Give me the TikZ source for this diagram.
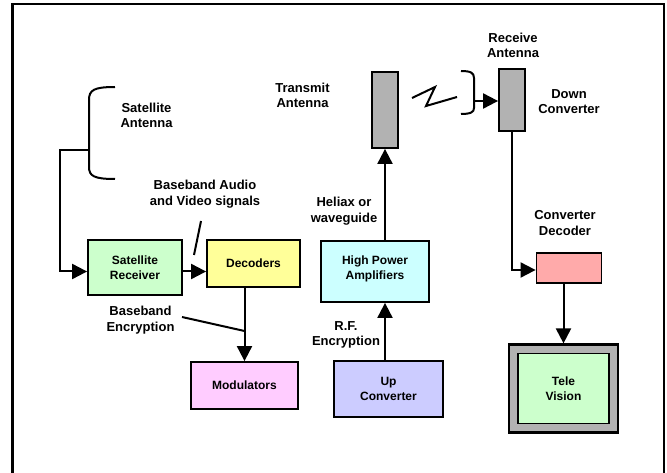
\documentclass[tikz,border=0pt]{standalone}
\usepackage{fontspec}
\setmainfont{Liberation Sans}
\usetikzlibrary{arrows.meta}
\definecolor{rxgreen}{HTML}{CCFFCC}
\definecolor{decyellow}{HTML}{FFFF99}
\definecolor{modpink}{HTML}{FFCCFF}
\definecolor{hpacyan}{HTML}{CCFFFF}
\definecolor{upblue}{HTML}{CCCCFF}
\definecolor{convred}{HTML}{FFAAAA}
\definecolor{antgray}{HTML}{B2B2B2}

\begin{document}
\begin{tikzpicture}[x=1pt,y=-1pt,
  box/.style={draw,line width=1.8pt,align=center,inner sep=0pt,font=\fontsize{12}{15}\selectfont\bfseries},
  lbl/.style={align=center,inner sep=0pt,font=\fontsize{13}{15.5}\selectfont\bfseries},
  arr/.style={line width=2pt,-{Triangle[length=15pt,width=15pt]}}]
  \useasboundingbox (0,0) rectangle (667,473);
  % frame, open at the bottom
  \draw[line width=2.2pt] (12.5,473) -- (12.5,4) -- (664,4) -- (664,473);

  % boxes
  \draw(135,267.5) node[box,fill=rxgreen,minimum width=94pt,minimum height=55pt] (rx) {Satellite\\Receiver};
  \draw(253.5,263.5) node[box,fill=decyellow,minimum width=93pt,minimum height=47pt] (dec) {Decoders};
  \draw(244.5,385.5) node[box,fill=modpink,minimum width=107pt,minimum height=47pt] (mod) {Modulators};
  \draw(375,271.5) node[box,fill=hpacyan,minimum width=108pt,minimum height=61pt,text depth=8pt] (hpa) {High Power\\Amplifiers};
  \draw(388.5,389) node[box,fill=upblue,minimum width=109pt,minimum height=56pt] (up) {Up\\Converter};
  \draw(385,110) node[box,fill=antgray,minimum width=26pt,minimum height=76pt] (tant) {};
  \draw(512,100) node[box,fill=antgray,minimum width=26pt,minimum height=62pt] (rant) {};
  \draw(569,268) node[box,fill=convred,minimum width=65pt,minimum height=30.5pt] (conv) {};
  \draw(563.5,388.5) node[box,line width=2.2pt,fill=antgray,minimum width=109pt,minimum height=88pt] (tvframe) {};
  \draw(563.5,388.5) node[box,fill=rxgreen,minimum width=91pt,minimum height=70pt] (tv) {Tele\\Vision};

  % labels
  \node[lbl] (satlbl) at (146.5,115.5) {Satellite\\Antenna};
  \node[lbl] (txlbl) at (302.5,95.5) {Transmit\\Antenna};
  \node[lbl] (bblbl) at (205,194) {Baseband Audio\\and Video signals};
  \node[lbl] (helbl) at (344,211) {Heliax or\\waveguide};
  \node[lbl] (rcvlbl) at (513,45.5) {Receive\\Antenna};
  \node[lbl] (dnlbl) at (569,101.5) {Down\\Converter};
  \node[lbl] (cdlbl) at (565,223) {Converter\\Decoder};
  \node[lbl] (enclbl) at (140.5,320) {Baseband\\Encryption};
  \node[lbl] (rflbl) at (346,335) {R.F.\\Encryption};

  % antenna brackets and radio link
  \draw[line width=2pt] (115,87) .. controls (94,87) and (89,90) .. (89,100) -- (89,167)
    .. controls (89,176) and (94,179) .. (115,179);
  \coordinate (satant) at (89,150);
  \draw[line width=2pt] (461,71) .. controls (471,71) and (474,73) .. (474,78) -- (474,108)
    .. controls (474,112) and (471,114) .. (461,114);
  \coordinate (rcvbr) at (474,101);
  \draw[line width=2pt] (412,98) -- (435,87) -- (426,106) -- (457,97);

  % connectors
  \draw[arr] (satant) -- ++(-29,0) |- ([yshift=-4pt]rx.west);
  \draw[arr] ([yshift=-4pt]rx.east) -- ([yshift=-4pt]rx.east -| dec.west);
  \draw[arr] (mod.north |- dec.south) -- (mod.north);
  \draw[arr] (up.north -| tant.south) -- (hpa.south -| tant.south);
  \draw[arr] (hpa.north -| tant.south) -- (tant.south);
  \draw[arr] (rcvbr) -- (rcvbr -| rant.west);
  \draw[arr] (rant.south) |- ([yshift=-2pt]conv.west);
  \draw[arr] (tvframe.north |- conv.south) -- (tvframe.north);

  % pointer lines
  \draw[line width=2pt] (201,221) -- (194,255);
  \draw[line width=2pt] (182,317) -- (mod.north |- 0,331);
\end{tikzpicture}
\end{document}
